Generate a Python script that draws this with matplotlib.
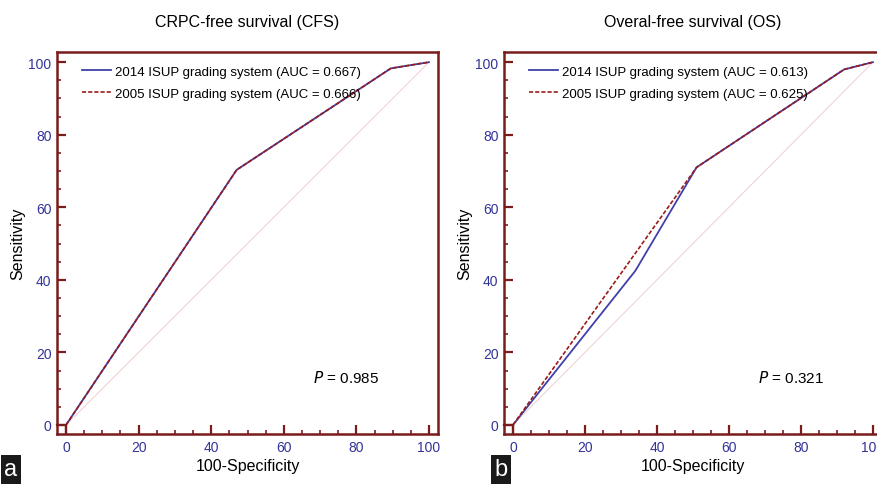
"""
    ROC curves: 2014 vs 2005 ISUP grading system
"""

import matplotlib
matplotlib.use('Agg')
import matplotlib.pyplot as plt
from matplotlib.ticker import MultipleLocator

plt.rcParams['font.family'] = ['Liberation Sans', 'DejaVu Sans']

# CRPC-free survival
cfs_2014_x = [0, 47, 89.5, 100]
cfs_2014_y = [0, 70.3, 98.3, 100]
cfs_2005_x = [0, 47, 89.5, 100]
cfs_2005_y = [0, 70.3, 98.3, 100]
cfs_auc = (0.667, 0.666)
cfs_p = 0.985

# overall survival
os_2014_x = [0, 34, 51, 92, 100]
os_2014_y = [0, 42.5, 71, 98, 100]
os_2005_x = [0, 51, 92, 100]
os_2005_y = [0, 71, 98, 100]
os_auc = (0.613, 0.625)
os_p = 0.321

ticks = [0, 20, 40, 60, 80, 100]

SPINE = '#7b1c1c'
NAVY = '#33339a'
BLUE = '#4040a8'
RED = '#9b1b1b'


def _roc_panel(ax, title, x14, y14, x05, y05, auc, p, letter, letter_x):
    ax.plot([0, 100], [0, 100], color='#f0d4d4', linewidth=0.8, zorder=1)
    ax.plot(x14, y14, color=BLUE, linewidth=1.3, zorder=2,
            label='2014 ISUP grading system (AUC = %.3f)' % auc[0])
    ax.plot(x05, y05, color=RED, linewidth=1.2, linestyle=(0, (2.5, 1.2)),
            zorder=3, label='2005 ISUP grading system (AUC = %.3f)' % auc[1])

    ax.set_xlim(-2.5, 102.5)
    ax.set_ylim(-2.5, 102.8)
    ax.set_xticks(ticks)
    ax.set_yticks(ticks)
    ax.xaxis.set_minor_locator(MultipleLocator(5))
    ax.yaxis.set_minor_locator(MultipleLocator(5))
    ax.tick_params(which='major', direction='in', length=6.5, width=1.6,
                   color=SPINE, labelcolor=NAVY, labelsize=10, pad=4)
    ax.tick_params(which='minor', direction='in', length=3, width=1.2,
                   color=SPINE)
    for s in ax.spines.values():
        s.set_color(SPINE)
        s.set_linewidth(1.8)

    # little box at the origin
    ax.plot([-2.5, 0, 0], [0, 0, -2.5], color=SPINE, linewidth=1.6,
            clip_on=False, zorder=4)

    ax.set_title(title, fontsize=11.5, pad=19)
    ax.set_xlabel('100-Specificity', fontsize=11.5, labelpad=3)
    ax.set_ylabel('Sensitivity', fontsize=11.5, labelpad=2)
    ax.text(68, 11.8, r'$P$ = %.3f' % p, fontsize=11)
    ax.legend(loc='upper left', frameon=False, fontsize=9.5,
              handlelength=2.2, handletextpad=0.3, labelspacing=0.75,
              borderaxespad=0.2, bbox_to_anchor=(0.045, 0.985))
    ax.figure.text(letter_x, 0.008, letter, color='white', fontsize=17,
                   va='bottom', ha='left',
                   bbox=dict(facecolor='#1a1a1a', edgecolor='none',
                             pad=2.5))


fig = plt.figure(figsize=(8.78, 4.85), dpi=100)
ax1 = fig.add_axes([0.0649, 0.1031, 0.434, 0.7876])
ax2 = fig.add_axes([0.574, 0.1031, 0.4305, 0.7876])

_roc_panel(ax1, 'CRPC-free survival (CFS)', cfs_2014_x, cfs_2014_y,
           cfs_2005_x, cfs_2005_y, cfs_auc, cfs_p, 'a', 0.005)
_roc_panel(ax2, 'Overal-free survival (OS)', os_2014_x, os_2014_y,
           os_2005_x, os_2005_y, os_auc, os_p, 'b', 0.563)

fig.savefig('out.png', dpi=100)
